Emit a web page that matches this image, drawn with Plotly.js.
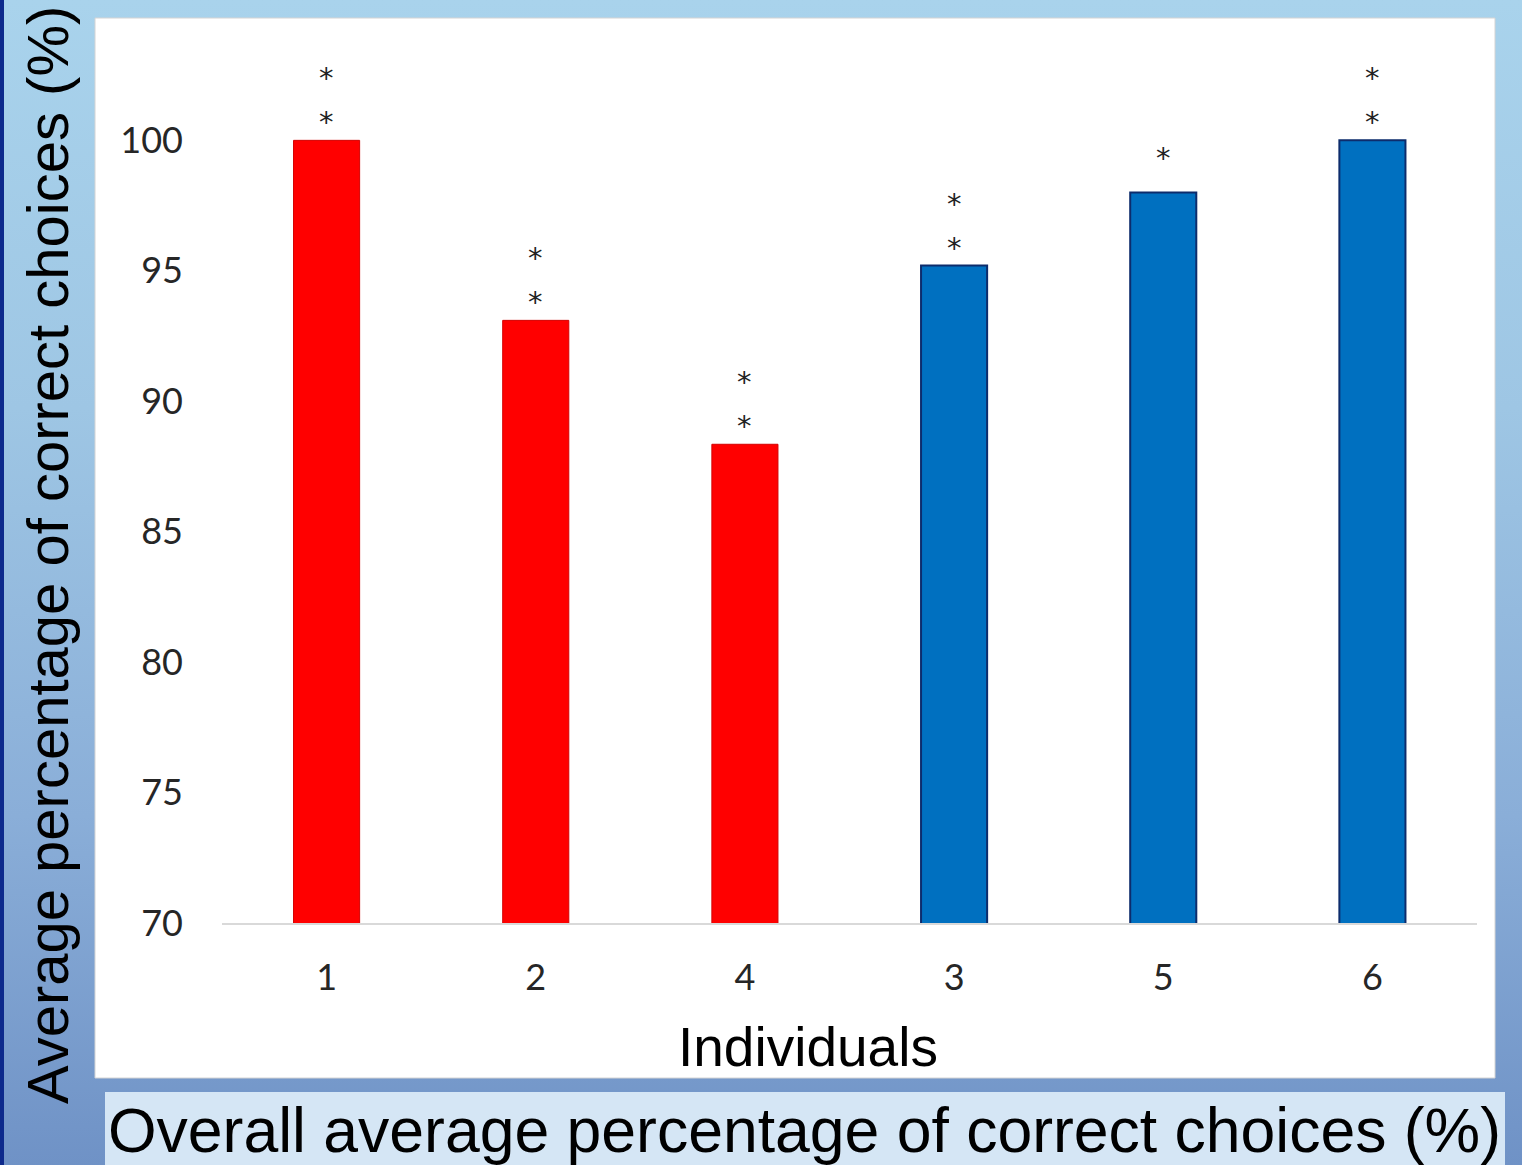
<!DOCTYPE html>
<html>
<head>
<meta charset="utf-8">
<script src="https://cdn.plot.ly/plotly-3.0.1.min.js"></script>
<style>
  html, body { margin: 0; padding: 0; }
  #chart {
    width: 1522px; height: 1165px;
    background: linear-gradient(to bottom, #a9d3ec 0%, #9ec6e4 35%, #8aaed8 70%, #6f92c6 100%);
  }
</style>
</head>
<body>
<div id="chart"></div>
<script>
// ---- Data ----
const categoryOrder = ['1', '2', '4', '3', '5', '6'];
const redIndividuals = ['1', '2', '4'];
const redValues = [100, 93.1, 88.35];
const redStars = [2, 2, 2];
const blueIndividuals = ['3', '5', '6'];
const blueValues = [95.2, 98.0, 100];
const blueStars = [2, 1, 2];
const yTickValues = [70, 75, 80, 85, 90, 95, 100];
const yTitle = 'Average percentage of correct choices (%)';
const xTitle = 'Individuals';
const caption = 'Overall average percentage of correct choices (%)';

// ---- Geometry (pixels) ----
const W = 1522, H = 1165;
const M = { l: 222, r: 45, t: 36, b: 242 };
const PW = W - M.l - M.r, PH = H - M.t - M.b;
const px = x => (x - M.l) / PW;
const py = y => (H - M.b - y) / PH;

const tickFont = { family: 'Lato, "Open Sans", sans-serif', size: 36, color: '#262626' };
const titleFamily = '"Liberation Sans", Arial, Helvetica, sans-serif';

const traces = [
  {
    type: 'bar', x: redIndividuals, y: redValues, name: 'red',
    marker: { color: '#ff0000', line: { color: '#d40000', width: 1 } },
    hoverinfo: 'x+y'
  },
  {
    type: 'bar', x: blueIndividuals, y: blueValues, name: 'blue',
    marker: { color: '#0070c0', line: { color: '#0d2c6c', width: 2 } },
    hoverinfo: 'x+y'
  }
];

// star offsets above bar top in pixels, by number of stars
const starShift = { 1: [41], 2: [24, 68] };
const annotations = [];
function addStars(ids, vals, counts) {
  ids.forEach((id, i) => {
    (starShift[counts[i]] || []).forEach(s => {
      annotations.push({
        // category axes read annotation x as the category index
        x: categoryOrder.indexOf(id), y: vals[i], xref: 'x', yref: 'y',
        text: '*', showarrow: false,
        yanchor: 'middle', yshift: s - 6,
        font: { family: '"DejaVu Sans", sans-serif', size: 29, color: '#222' }
      });
    });
  });
}
addStars(redIndividuals, redValues, redStars);
addStars(blueIndividuals, blueValues, blueStars);

annotations.push({
  text: xTitle, xref: 'paper', yref: 'paper', x: px(808), y: py(1047),
  xanchor: 'center', yanchor: 'middle', showarrow: false,
  font: { family: titleFamily, size: 55, color: '#000' }
});
annotations.push({
  text: yTitle, xref: 'paper', yref: 'paper', x: px(47), y: py(555),
  xanchor: 'center', yanchor: 'middle', showarrow: false, textangle: -90,
  font: { family: titleFamily, size: 58, color: '#000' }
});
annotations.push({
  text: caption, xref: 'paper', yref: 'paper', x: px(106), y: py(1130),
  xanchor: 'left', yanchor: 'middle', showarrow: false,
  font: { family: titleFamily, size: 62.5, color: '#000' }
});

const shapes = [
  // white chart panel
  { type: 'rect', xref: 'paper', yref: 'paper', layer: 'below',
    x0: px(95), x1: px(1495), y0: py(1078), y1: py(18),
    fillcolor: '#ffffff', line: { color: '#d4d4d4', width: 1 } },
  // caption box
  { type: 'rect', xref: 'paper', yref: 'paper', layer: 'below',
    x0: px(105), x1: px(1505), y0: py(1175), y1: py(1092),
    fillcolor: '#d5e6f5', line: { width: 0 } },
  // dark left strip
  { type: 'rect', xref: 'paper', yref: 'paper', layer: 'below',
    x0: px(0), x1: px(4), y0: py(H), y1: py(0),
    fillcolor: '#0d2a8c', line: { width: 0 } }
];

const layout = {
  width: W, height: H,
  margin: M,
  paper_bgcolor: 'rgba(0,0,0,0)',
  plot_bgcolor: 'rgba(0,0,0,0)',
  showlegend: false,
  barmode: 'overlay',
  bargap: 0.684,
  xaxis: {
    type: 'category', categoryorder: 'array', categoryarray: categoryOrder,
    range: [-0.5, categoryOrder.length - 0.5],
    showline: true, linecolor: '#d9d9d9', linewidth: 2,
    showgrid: false, zeroline: false, ticks: '',
    tickfont: tickFont, ticklabelstandoff: 22
  },
  yaxis: {
    range: [70, 104], tickvals: yTickValues, ticktext: yTickValues.map(String),
    showline: false, showgrid: false, zeroline: false, ticks: '',
    tickfont: tickFont, ticklabelstandoff: 38
  },
  shapes: shapes,
  annotations: annotations
};

Plotly.newPlot('chart', traces, layout, { displayModeBar: false, staticPlot: true });
</script>
</body>
</html>
